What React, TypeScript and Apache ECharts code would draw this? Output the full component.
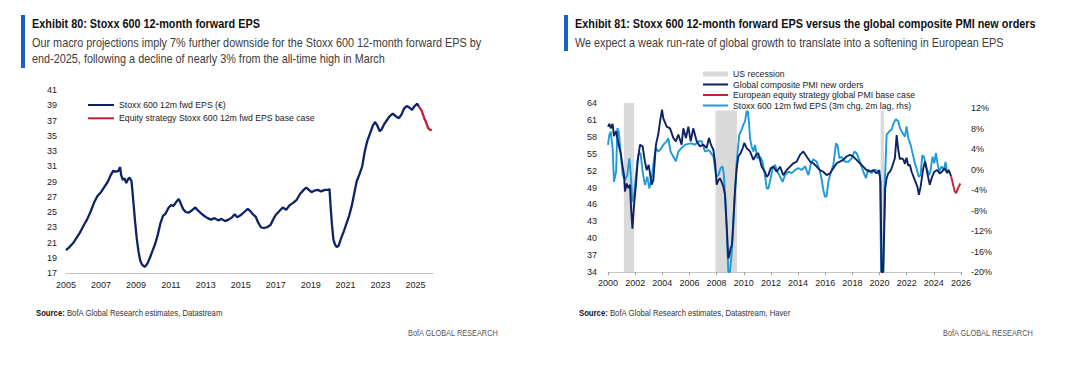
import React, { useEffect, useRef } from "react";
import * as echarts from "echarts";

// ---------- data ----------
// Exhibit 80: Stoxx 600 12m fwd EPS (EUR), [year, value]
const epsHistory: [number, number][] = [
  [2005.0, 20.0], [2005.2, 20.4], [2005.4, 20.9], [2005.6, 21.6], [2005.8, 22.3], [2006.0, 23.2], [2006.2, 24.0],
  [2006.4, 25.0], [2006.6, 26.2], [2006.8, 27.1], [2007.0, 27.6], [2007.2, 28.3], [2007.4, 29.0], [2007.55, 29.8],
  [2007.7, 30.4], [2007.85, 30.3], [2008.0, 30.4], [2008.1, 30.9], [2008.15, 29.9], [2008.25, 29.2], [2008.35, 29.4],
  [2008.45, 28.8], [2008.55, 29.3], [2008.65, 29.5], [2008.75, 29.0], [2008.85, 26.5], [2008.95, 23.8], [2009.05, 21.5],
  [2009.15, 19.8], [2009.25, 18.6], [2009.35, 18.1], [2009.5, 17.8], [2009.65, 18.2], [2009.8, 19.0], [2009.95, 19.9],
  [2010.1, 20.8], [2010.25, 22.0], [2010.4, 23.5], [2010.55, 24.5], [2010.7, 24.8], [2010.85, 25.5], [2011.0, 25.9],
  [2011.15, 25.8], [2011.3, 26.3], [2011.45, 26.7], [2011.55, 26.2], [2011.7, 25.4], [2011.85, 25.0], [2012.0, 24.9],
  [2012.2, 25.2], [2012.4, 25.6], [2012.55, 25.2], [2012.7, 24.9], [2012.9, 24.5], [2013.1, 24.2], [2013.3, 24.0],
  [2013.5, 24.2], [2013.7, 23.9], [2013.9, 24.1], [2014.1, 23.8], [2014.3, 24.0], [2014.5, 24.3], [2014.65, 24.7],
  [2014.8, 24.3], [2015.0, 24.6], [2015.2, 25.0], [2015.4, 25.4], [2015.55, 25.1], [2015.7, 24.7], [2015.85, 24.4],
  [2016.0, 23.6], [2016.15, 23.0], [2016.3, 22.9], [2016.5, 23.0], [2016.7, 23.3], [2016.85, 24.0], [2017.0, 24.6],
  [2017.2, 25.1], [2017.4, 25.6], [2017.6, 25.3], [2017.8, 25.9], [2018.0, 26.2], [2018.2, 26.6], [2018.4, 27.4],
  [2018.6, 27.9], [2018.75, 28.2], [2018.9, 27.9], [2019.05, 27.6], [2019.2, 27.8], [2019.4, 27.9], [2019.6, 27.7],
  [2019.8, 27.9], [2020.0, 27.9], [2020.08, 28.0], [2020.14, 25.7], [2020.22, 23.3], [2020.3, 21.4], [2020.4, 20.7],
  [2020.5, 20.4], [2020.6, 20.6], [2020.75, 21.6], [2020.9, 22.5], [2021.05, 23.5], [2021.2, 24.5], [2021.35, 25.8],
  [2021.5, 27.5], [2021.63, 29.0], [2021.8, 30.0], [2021.95, 31.0], [2022.1, 33.0], [2022.25, 34.4], [2022.4, 35.3],
  [2022.55, 36.3], [2022.68, 36.8], [2022.8, 36.4], [2022.95, 35.6], [2023.05, 35.8], [2023.2, 36.5], [2023.35, 37.0],
  [2023.5, 37.5], [2023.7, 37.9], [2023.85, 37.6], [2024.05, 37.3], [2024.2, 37.8], [2024.35, 38.6], [2024.5, 38.9],
  [2024.65, 38.7], [2024.8, 38.4], [2024.95, 38.9], [2025.1, 39.2], [2025.2, 38.8],
];
const epsBaseCase: [number, number][] = [
  [2025.2, 38.8], [2025.35, 38.3], [2025.5, 37.3], [2025.6, 36.8], [2025.72, 36.0], [2025.82, 35.8], [2025.93, 35.7],
];

// Exhibit 81: global composite PMI new orders (lhs)
const pmiNewOrders: [number, number][] = [
  [2000.0, 59.8], [2000.1, 60.3], [2000.2, 59.5], [2000.34, 60.3], [2000.44, 58.1], [2000.6, 59.0], [2000.76, 56.9],
  [2000.93, 55.1], [2001.08, 52.7], [2001.18, 51.2], [2001.25, 48.3], [2001.37, 49.7], [2001.5, 48.9], [2001.62, 49.5],
  [2001.7, 45.3], [2001.8, 41.7], [2001.92, 45.9], [2002.06, 49.5], [2002.18, 53.6], [2002.36, 56.6], [2002.55, 56.3],
  [2002.72, 53.6], [2002.85, 52.1], [2003.0, 53.0], [2003.09, 51.5], [2003.22, 49.5], [2003.34, 50.3], [2003.53, 56.6],
  [2003.7, 58.4], [2003.83, 60.7], [2003.98, 62.8], [2004.07, 61.3], [2004.32, 59.8], [2004.57, 59.5], [2004.81, 57.8],
  [2005.0, 57.2], [2005.18, 58.4], [2005.42, 56.6], [2005.55, 59.5], [2005.74, 57.8], [2005.92, 59.8], [2006.09, 57.2],
  [2006.28, 59.5], [2006.53, 57.2], [2006.77, 56.3], [2007.02, 56.6], [2007.26, 56.0], [2007.44, 57.8], [2007.58, 56.6],
  [2007.76, 55.7], [2007.88, 53.6], [2008.0, 49.5], [2008.13, 50.3], [2008.25, 50.6], [2008.37, 50.0], [2008.49, 49.2],
  [2008.62, 47.7], [2008.74, 42.3], [2008.86, 36.4], [2008.94, 37.0], [2009.03, 38.2], [2009.13, 38.8], [2009.23, 42.9],
  [2009.35, 48.3], [2009.48, 52.4], [2009.6, 54.5], [2009.77, 55.1], [2009.92, 56.0], [2010.04, 56.9], [2010.21, 56.0],
  [2010.46, 55.4], [2010.71, 53.9], [2010.9, 54.8], [2011.07, 55.1], [2011.32, 52.7], [2011.56, 51.8], [2011.69, 50.9],
  [2011.81, 51.2], [2011.98, 52.4], [2012.18, 52.7], [2012.42, 51.8], [2012.67, 52.7], [2012.91, 51.2], [2013.16, 52.1],
  [2013.41, 52.7], [2013.65, 53.3], [2013.9, 53.6], [2014.14, 54.8], [2014.39, 55.4], [2014.63, 54.5], [2014.88, 53.6],
  [2015.12, 53.3], [2015.37, 52.7], [2015.61, 52.1], [2015.86, 51.8], [2016.1, 51.2], [2016.35, 51.5], [2016.59, 52.4],
  [2016.84, 53.3], [2017.08, 53.6], [2017.33, 53.9], [2017.57, 54.5], [2017.82, 54.8], [2018.06, 54.5], [2018.31, 53.9],
  [2018.55, 53.3], [2018.8, 52.7], [2019.04, 52.1], [2019.29, 51.8], [2019.53, 52.1], [2019.78, 51.5], [2019.98, 52.1],
  [2020.07, 50.0], [2020.15, 34.0], [2020.27, 34.0], [2020.35, 41.7], [2020.42, 48.9], [2020.52, 50.6], [2020.64, 51.5],
  [2020.76, 51.8], [2020.89, 52.4], [2021.01, 53.3], [2021.13, 54.2], [2021.26, 58.3], [2021.38, 55.7], [2021.5, 54.0],
  [2021.62, 54.2], [2021.75, 54.0], [2021.87, 53.2], [2021.99, 54.3], [2022.11, 52.9], [2022.24, 53.0], [2022.36, 51.8],
  [2022.6, 50.3], [2022.78, 49.2], [2022.9, 47.7], [2023.03, 49.2], [2023.22, 52.4], [2023.35, 53.6], [2023.52, 51.5],
  [2023.7, 49.5], [2023.87, 50.9], [2024.04, 51.8], [2024.24, 52.1], [2024.43, 51.5], [2024.6, 51.8], [2024.78, 52.4],
  [2024.98, 51.6], [2025.1, 52.1], [2025.27, 51.0],
];
const pmiBaseCase: [number, number][] = [
  [2025.27, 51.0], [2025.42, 49.5], [2025.54, 48.3], [2025.64, 48.0], [2025.78, 48.9], [2025.95, 49.7],
];
// Stoxx 600 12m fwd EPS, 3m change, 2m lag (%, rhs)
const epsChange: [number, number][] = [
  [2000.0, 4.8], [2000.1, 6.8], [2000.2, 7.4], [2000.34, 4.2], [2000.44, -2.4], [2000.6, -0.4], [2000.69, 8.1],
  [2000.79, 7.4], [2000.93, 3.5], [2001.08, -1.1], [2001.25, -2.0], [2001.42, -1.1], [2001.57, 2.2], [2001.67, -0.7],
  [2001.79, -6.3], [2001.92, -5.0], [2002.06, -1.1], [2002.23, 2.9], [2002.4, 3.2], [2002.55, -0.4], [2002.72, -3.0],
  [2002.9, -1.4], [2003.04, -3.7], [2003.22, -1.7], [2003.4, 2.2], [2003.53, 4.2], [2003.7, 3.5], [2003.83, 3.8],
  [2004.07, 4.8], [2004.32, 5.5], [2004.44, 6.1], [2004.61, 3.5], [2004.81, 2.5], [2005.0, 1.6], [2005.18, 3.5],
  [2005.42, 4.2], [2005.67, 4.8], [2005.92, 5.0], [2006.16, 5.1], [2006.4, 4.8], [2006.65, 5.5], [2006.9, 5.5],
  [2007.14, 3.5], [2007.39, 3.8], [2007.51, 3.5], [2007.76, 2.5], [2007.88, 0.3], [2008.0, -1.4], [2008.13, -1.1],
  [2008.3, 0.3], [2008.44, 0.6], [2008.54, -1.1], [2008.62, -5.0], [2008.74, -11.5], [2008.86, -20.0], [2008.98, -20.0],
  [2009.1, -16.7], [2009.23, -10.8], [2009.35, -4.3], [2009.48, 1.6], [2009.55, 3.5], [2009.67, 6.8], [2009.85, 7.8],
  [2009.97, 8.7], [2010.09, 9.4], [2010.21, 11.3], [2010.28, 11.7], [2010.38, 9.4], [2010.46, 6.1], [2010.58, 4.5],
  [2010.71, 3.5], [2010.83, 4.8], [2011.0, 2.2], [2011.2, 2.5], [2011.37, 1.6], [2011.56, -1.1], [2011.69, -3.7],
  [2011.81, -3.7], [2011.98, -1.7], [2012.13, 0.3], [2012.3, 0.9], [2012.47, -0.4], [2012.67, -1.4], [2012.86, -2.4],
  [2013.04, -1.1], [2013.29, -0.4], [2013.53, -0.7], [2013.78, -0.1], [2014.02, 0.3], [2014.26, -0.1], [2014.51, 0.6],
  [2014.76, -1.1], [2014.95, 1.2], [2015.12, 2.0], [2015.37, 1.5], [2015.61, -0.4], [2015.74, -2.0], [2015.86, -4.0],
  [2015.98, -5.3], [2016.1, -5.3], [2016.23, -2.4], [2016.35, -1.1], [2016.6, 0.9], [2016.79, 5.1], [2016.9, 4.8],
  [2017.04, 2.2], [2017.2, 2.5], [2017.45, 1.5], [2017.7, 1.5], [2017.95, 2.2], [2018.14, 3.5], [2018.31, 3.2],
  [2018.56, 1.5], [2018.8, -0.4], [2019.0, -1.7], [2019.17, 0.0], [2019.41, -0.7], [2019.66, 0.0], [2019.9, -0.4],
  [2020.03, -1.4], [2020.12, -20.0], [2020.27, -20.0], [2020.37, -4.0], [2020.52, 6.8], [2020.71, 7.4], [2020.88, 7.8],
  [2021.05, 9.1], [2021.2, 9.8], [2021.38, 9.4], [2021.5, 8.1], [2021.7, 7.1], [2021.87, 6.4], [2021.99, 8.4],
  [2022.12, 6.1], [2022.29, 4.8], [2022.43, 3.2], [2022.6, 1.2], [2022.73, 0.2], [2022.88, -1.4], [2023.02, -1.1],
  [2023.15, 2.8], [2023.27, 2.5], [2023.42, 0.9], [2023.51, -0.1], [2023.66, -1.1], [2023.76, -0.1], [2023.9, 2.5],
  [2024.03, 1.2], [2024.15, 3.2], [2024.27, 1.2], [2024.39, -0.4], [2024.57, 0.6], [2024.74, -0.1], [2024.86, 1.5],
  [2024.99, -0.7], [2025.11, -0.4],
];
// US recessions [start, end]
const usRecessions: [number, number][] = [
  [2001.17, 2001.92],
  [2007.92, 2009.5],
  [2020.08, 2020.33],
];

const LEFT_NAMES = ["Stoxx 600 12m fwd EPS (€)", "Equity strategy Stoxx 600 12m fwd EPS base case"];
const RIGHT_NAMES = [
  "US recession",
  "Global composite PMI new orders",
  "European equity strategy global PMI base case",
  "Stoxx 600 12m fwd EPS (3m chg, 2m lag, rhs)",
];
const TITLE_LEFT = "Exhibit 80: Stoxx 600 12-month forward EPS";
const SUB_LEFT =
  "Our macro projections imply 7% further downside for the Stoxx 600 12-month forward EPS by\nend-2025, following a decline of nearly 3% from the all-time high in March";
const TITLE_RIGHT = "Exhibit 81: Stoxx 600 12-month forward EPS versus the global composite PMI new orders";
const SUB_RIGHT = "We expect a weak run-rate of global growth to translate into a softening in European EPS";
const SOURCE_LEFT = "BofA Global Research estimates, Datastream";
const SOURCE_RIGHT = "BofA Global Research estimates, Datastream, Haver";
const BRAND = "BofA GLOBAL RESEARCH";

// ---------- styles ----------
const FONT = "'Liberation Sans', Arial, sans-serif";
const NAVY = "#0d2366";
const RED = "#c41e3a";
const LIGHT = "#1e9bd7";
const GREY = "#d9d9d9";
const BLUEBAR = "#1a5fc8";
const LABEL = "#222";
const AXIS = "#c4c4c4";
const AXIS_SIZE = 9;
const LEGEND_SIZE = 8.7;
const NARROW = 0.835;

function txt(text: string, x: number, y: number, size: number, opts: any = {}) {
  return {
    type: "text",
    x,
    y,
    scaleX: opts.scaleX ?? NARROW,
    silent: true,
    style: {
      text,
      fontFamily: FONT,
      fontSize: size,
      fontWeight: opts.bold ? "bold" : "normal",
      fill: opts.color ?? "#111",
      lineHeight: opts.lineHeight ?? size * 1.2,
      align: "left",
      textAlign: "left",
      verticalAlign: "top",
      textVerticalAlign: "top",
      rich: opts.rich,
    },
  };
}

function buildOption(): any {
  const axisText = { fontFamily: FONT, fontSize: AXIS_SIZE, color: LABEL };
  const legendText = { fontFamily: FONT, fontSize: LEGEND_SIZE, color: LABEL, lineHeight: 10 };
  const line = (name: string, data: [number, number][], color: string, xi: number, yi: number, width = 2) => ({
    type: "line",
    name,
    data,
    xAxisIndex: xi,
    yAxisIndex: yi,
    symbol: "none",
    showSymbol: false,
    clip: true,
    lineStyle: { color, width },
    itemStyle: { color },
    z: 3,
  });
  const sourceRich = {
    b: { fontFamily: FONT, fontSize: 9, fontWeight: "bold", fill: "#111", color: "#111" },
    n: { fontFamily: FONT, fontSize: 9, fontWeight: "normal", fill: "#333", color: "#333" },
  };
  return {
    animation: false,
    backgroundColor: "#ffffff",
    graphic: [
      { type: "rect", x: 21, y: 15, shape: { x: 0, y: 0, width: 4, height: 53 }, style: { fill: BLUEBAR }, silent: true },
      { type: "rect", x: 564, y: 15, shape: { x: 0, y: 0, width: 4, height: 36 }, style: { fill: BLUEBAR }, silent: true },
      txt(TITLE_LEFT, 32, 16, 13, { bold: true, lineHeight: 15 }),
      txt(SUB_LEFT, 32, 35, 13, { color: "#3c3c3c", lineHeight: 15.5 }),
      txt(TITLE_RIGHT, 575, 16, 13, { bold: true, lineHeight: 15 }),
      txt(SUB_RIGHT, 575, 35, 13, { color: "#3c3c3c", lineHeight: 15.5 }),
      txt("{b|Source:}{n| " + SOURCE_LEFT + "}", 36, 308, 9, { rich: sourceRich, scaleX: 0.86, lineHeight: 10 }),
      txt("{b|Source:}{n| " + SOURCE_RIGHT + "}", 579, 308, 9, { rich: sourceRich, scaleX: 0.86, lineHeight: 10 }),
      txt(BRAND, 408, 328, 9, { color: "#555", scaleX: 0.82, lineHeight: 10 }),
      txt(BRAND, 943, 328, 9, { color: "#555", scaleX: 0.82, lineHeight: 10 }),
    ],
    legend: [
      {
        orient: "vertical",
        left: 87,
        top: 100,
        padding: 0,
        itemGap: 3.3,
        itemWidth: 26,
        itemHeight: 5,
        selectedMode: false,
        itemStyle: { opacity: 0 },
        textStyle: legendText,
        data: LEFT_NAMES,
      },
      {
        orient: "vertical",
        left: 702,
        top: 69,
        padding: 0,
        itemGap: 0.5,
        itemWidth: 25,
        itemHeight: 5,
        selectedMode: false,
        backgroundColor: "#ffffff",
        itemStyle: { opacity: 0 },
        textStyle: legendText,
        data: [
          { name: RIGHT_NAMES[0], icon: "rect", itemStyle: { color: GREY, opacity: 1 } },
          RIGHT_NAMES[1],
          RIGHT_NAMES[2],
          RIGHT_NAMES[3],
        ],
      },
    ],
    grid: [
      { left: 66, top: 90, width: 367, height: 183, containLabel: false },
      { left: 608, top: 103, width: 353, height: 169, containLabel: false },
      { left: 608, top: 108, width: 353, height: 164, containLabel: false },
    ],
    xAxis: [
      {
        type: "value",
        gridIndex: 0,
        min: 2005,
        max: 2026,
        interval: 1,
        axisLine: { show: true, lineStyle: { color: AXIS, width: 1 } },
        axisTick: { show: false },
        splitLine: { show: false },
        axisLabel: {
          ...axisText,
          margin: 7,
          formatter: (v: number) => {
            const y = Math.round(v);
            return y % 2 === 1 && y < 2026 ? String(y) : "";
          },
        },
      },
      {
        type: "value",
        gridIndex: 1,
        min: 2000,
        max: 2026,
        interval: 2,
        axisLine: { show: true, lineStyle: { color: AXIS, width: 1 } },
        axisTick: { show: true, length: 3, lineStyle: { color: "#9a9a9a" } },
        splitLine: { show: false },
        axisLabel: { ...axisText, margin: 6, formatter: (v: number) => String(Math.round(v)) },
      },
      { type: "value", gridIndex: 2, min: 2000, max: 2026, show: false, splitLine: { show: false } },
    ],
    yAxis: [
      {
        type: "value",
        gridIndex: 0,
        min: 17,
        max: 41,
        interval: 1,
        axisLine: { show: false },
        axisTick: { show: false },
        splitLine: { show: false },
        axisLabel: {
          ...axisText,
          margin: 9,
          formatter: (v: number) => {
            const y = Math.round(v);
            return Math.abs(y % 2) === 1 ? String(y) : "";
          },
        },
      },
      {
        type: "value",
        gridIndex: 1,
        min: 34,
        max: 64,
        interval: 1,
        axisLine: { show: false },
        axisTick: { show: false },
        splitLine: { show: false },
        axisLabel: {
          ...axisText,
          margin: 11,
          formatter: (v: number) => {
            const y = Math.round(v);
            return (y - 34) % 3 === 0 ? String(y) : "";
          },
        },
      },
      {
        type: "value",
        gridIndex: 2,
        position: "right",
        min: -20,
        max: 12,
        interval: 4,
        axisLine: { show: false },
        axisTick: { show: false },
        splitLine: { show: false },
        axisLabel: { ...axisText, margin: 10, formatter: (v: number) => Math.round(v) + "%" },
      },
    ],
    series: [
      line(LEFT_NAMES[0], epsHistory, NAVY, 0, 0, 2.3),
      line(LEFT_NAMES[1], epsBaseCase, RED, 0, 0, 2.3),
      {
        type: "line",
        name: RIGHT_NAMES[0],
        data: [],
        xAxisIndex: 1,
        yAxisIndex: 1,
        symbol: "none",
        z: 1,
        itemStyle: { color: GREY },
        lineStyle: { color: GREY },
        markArea: {
          silent: true,
          itemStyle: { color: GREY },
          data: usRecessions.map(([a, b]) => [{ xAxis: a }, { xAxis: b }]),
        },
      },
      line(RIGHT_NAMES[3], epsChange, LIGHT, 2, 2, 1.9),
      line(RIGHT_NAMES[1], pmiNewOrders, NAVY, 1, 1, 1.9),
      line(RIGHT_NAMES[2], pmiBaseCase, RED, 1, 1, 1.9),
    ],
  };
}

export default function App() {
  const ref = useRef<HTMLDivElement>(null);
  useEffect(() => {
    if (!ref.current) return;
    const chart = echarts.init(ref.current, undefined, { renderer: "svg" });
    chart.setOption(buildOption());
    return () => chart.dispose();
  }, []);
  return (
    <div
      ref={ref}
      style={{ position: "absolute", left: 0, top: 0, width: 1068, height: 375, background: "#fff" }}
    />
  );
}
